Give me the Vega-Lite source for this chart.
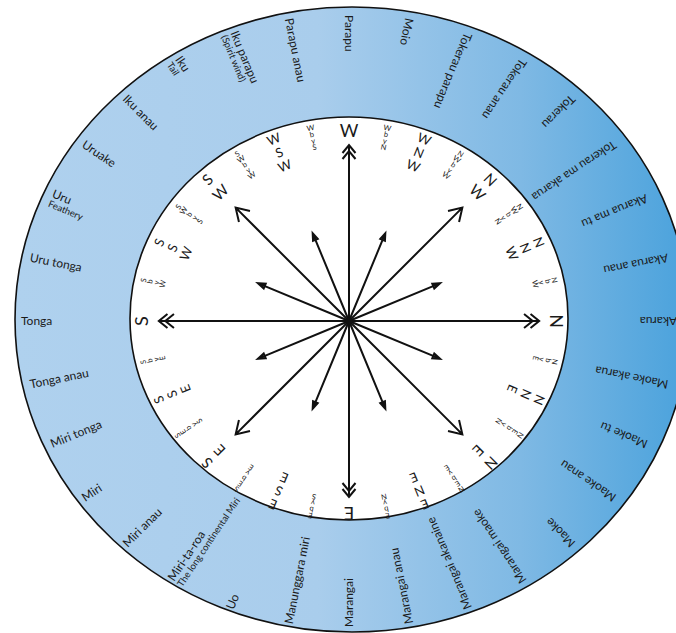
{
  "$schema": "https://vega.github.io/schema/vega-lite/v6.json",
  "width": 654,
  "height": 624,
  "autosize": {"type": "none"},
  "padding": {"left": 22, "top": 9, "right": 0, "bottom": 0},
  "background": "white",
  "view": {"stroke": null},
  "config": {"text": {"font": "Lato", "fill": "#1a1a1a"}},
  "datasets": {
    "rings": [{"ring": "outer"}, {"ring": "inner"}, {"ring": "hub"}],
    "points": [
      {"bearing": 0, "abbr": ["W"], "name": "Parapu", "rank": "cardinal"},
      {"bearing": 11.25, "abbr": ["W", "b", "y", "N"], "name": "Moio", "rank": "quarter"},
      {"bearing": 22.5, "abbr": ["W", "N", "W"], "name": "Tokerau parapu", "rank": "half"},
      {"bearing": 33.75, "abbr": ["N", "W", "b", "y", "W"], "name": "Tokerau anau", "rank": "quarter"},
      {"bearing": 45, "abbr": ["N", "W"], "name": "Tokerau", "rank": "intercardinal"},
      {"bearing": 56.25, "abbr": ["N", "W", "b", "y", "N"], "name": "Tokerau ma akarua", "rank": "quarter"},
      {"bearing": 67.5, "abbr": ["N", "N", "W"], "name": "Akarua ma tu", "rank": "half"},
      {"bearing": 78.75, "abbr": ["N", "b", "y", "W"], "name": "Akarua anau", "rank": "quarter"},
      {"bearing": 90, "abbr": ["N"], "name": "Akarua", "rank": "cardinal"},
      {"bearing": 101.25, "abbr": ["N", "b", "y", "E"], "name": "Maoke akarua", "rank": "quarter"},
      {"bearing": 112.5, "abbr": ["N", "N", "E"], "name": "Maoke tu", "rank": "half"},
      {"bearing": 123.75, "abbr": ["N", "E", "b", "y", "N"], "name": "Maoke anau", "rank": "quarter"},
      {"bearing": 135, "abbr": ["N", "E"], "name": "Maoke", "rank": "intercardinal"},
      {"bearing": 146.25, "abbr": ["N", "E", "b", "y", "E"], "name": "Marangai maoke", "rank": "quarter"},
      {"bearing": 157.5, "abbr": ["E", "N", "E"], "name": "Marangai akanaine", "rank": "half"},
      {"bearing": 168.75, "abbr": ["E", "b", "y", "N"], "name": "Marangai anau", "rank": "quarter"},
      {"bearing": 180, "abbr": ["E"], "name": "Marangai", "rank": "cardinal"},
      {"bearing": 191.25, "abbr": ["E", "b", "y", "S"], "name": "Manunggara miri", "rank": "quarter"},
      {"bearing": 202.5, "abbr": ["E", "S", "E"], "name": "Uo", "rank": "half"},
      {"bearing": 213.75, "abbr": ["S", "E", "b", "y", "E"], "name": "Miri-ta-roa", "sub": "The long continental Miri", "rank": "quarter"},
      {"bearing": 225, "abbr": ["S", "E"], "name": "Miri anau", "rank": "intercardinal"},
      {"bearing": 236.25, "abbr": ["S", "E", "b", "y", "S"], "name": "Miri", "rank": "quarter"},
      {"bearing": 247.5, "abbr": ["S", "S", "E"], "name": "Miri tonga", "rank": "half"},
      {"bearing": 258.75, "abbr": ["S", "b", "y", "E"], "name": "Tonga anau", "rank": "quarter"},
      {"bearing": 270, "abbr": ["S"], "name": "Tonga", "rank": "cardinal"},
      {"bearing": 281.25, "abbr": ["S", "b", "y", "W"], "name": "Uru tonga", "rank": "quarter"},
      {"bearing": 292.5, "abbr": ["S", "S", "W"], "name": "Uru", "sub": "Feathery", "rank": "half"},
      {"bearing": 303.75, "abbr": ["S", "W", "b", "y", "S"], "name": "Uruake", "rank": "quarter"},
      {"bearing": 315, "abbr": ["S", "W"], "name": "Iku anau", "rank": "intercardinal"},
      {"bearing": 326.25, "abbr": ["S", "W", "b", "y", "W"], "name": "Iku", "sub": "Tail", "rank": "quarter"},
      {"bearing": 337.5, "abbr": ["W", "S", "W"], "name": "Iku parapu", "sub": "(Spirit wind)", "rank": "half"},
      {"bearing": 348.75, "abbr": ["W", "b", "y", "S"], "name": "Parapu anau", "rank": "quarter"}
    ]
  },
  "layer": [
    {
      "data": {"name": "rings"},
      "transform": [{"filter": "datum.ring === 'outer'"}],
      "mark": {
        "type": "point",
        "shape": "M-334,-1.5 A337,312.5 0 1 0 340,-1.5 A337,312.5 0 1 0 -334,-1.5 Z",
        "size": 4,
        "filled": true,
        "opacity": 1,
        "fill": {"gradient": "linear", "x1": 0, "y1": 0, "x2": 1, "y2": 0,
          "stops": [
            {"offset": 0, "color": "#afd1ee"},
            {"offset": 0.45, "color": "#a9cdec"},
            {"offset": 0.75, "color": "#7fb9e4"},
            {"offset": 1, "color": "#4aa2dc"}
          ]},
        "stroke": "#111111",
        "strokeWidth": 1.6
      },
      "encoding": {}
    },
    {
      "data": {"name": "rings"},
      "transform": [{"filter": "datum.ring === 'inner'"}],
      "mark": {
        "type": "point",
        "shape": "M-219,-2.5 A219,201.5 0 1 0 219,-2.5 A219,201.5 0 1 0 -219,-2.5 Z",
        "size": 4,
        "filled": true,
        "opacity": 1,
        "fill": "white",
        "stroke": "#111111",
        "strokeWidth": 1.6
      },
      "encoding": {}
    },
    {
      "data": {"name": "points"},
      "transform": [{"filter": "datum.rank === 'cardinal'"}],
      "mark": {"type": "point", "shape": "M0,0 L0,-176 M-6.5,-168 L0,-176 L6.5,-168 M-6.5,-162 L0,-170 L6.5,-162", "filled": false, "opacity": 1, "stroke": "#111111", "strokeWidth": 2},
      "encoding": {
        "angle": {"field": "bearing", "type": "quantitative", "scale": null},
        "size": {"field": "bearing", "type": "quantitative", "legend": null,
          "scale": {"type": "linear", "domain": [0, 90, 180, 270, 360], "range": [4, 4.67, 4, 4.67, 4], "zero": false, "nice": false}}
      }
    },
    {
      "data": {"name": "points"},
      "transform": [{"filter": "datum.rank === 'intercardinal'"}],
      "mark": {"type": "point", "shape": "M0,0 L0,-154 M-7.5,-142 L0,-154 L7.5,-142", "filled": false, "opacity": 1, "stroke": "#111111", "strokeWidth": 2},
      "encoding": {
        "angle": {"field": "bearing", "type": "quantitative", "scale": null},
        "size": {"field": "bearing", "type": "quantitative", "legend": null,
          "scale": {"type": "linear", "domain": [0, 90, 180, 270, 360], "range": [4, 4.67, 4, 4.67, 4], "zero": false, "nice": false}}
      }
    },
    {
      "data": {"name": "points"},
      "transform": [{"filter": "datum.rank === 'half'"}],
      "mark": {"type": "point", "shape": "M0,0 L0,-92 M-2.5,-86 L0,-93 L2.5,-86 Z", "filled": false, "opacity": 1, "stroke": "#111111", "strokeWidth": 2},
      "encoding": {
        "angle": {"field": "bearing", "type": "quantitative", "scale": null},
        "size": {"field": "bearing", "type": "quantitative", "legend": null,
          "scale": {"type": "linear", "domain": [0, 90, 180, 270, 360], "range": [4, 4.67, 4, 4.67, 4], "zero": false, "nice": false}}
      }
    },
    {
      "data": {"name": "rings"},
      "transform": [{"filter": "datum.ring === 'hub'"}],
      "mark": {"type": "point", "shape": "circle", "size": 45, "filled": true, "opacity": 1, "color": "#111111"},
      "encoding": {}
    },
    {
      "data": {"name": "points"},
      "transform": [{"filter": "!isValid(datum.sub)"}],
      "mark": {"type": "text", "align": "left", "baseline": "middle", "font": "Lato", "fontSize": 12},
      "encoding": {
        "text": {"field": "name", "type": "nominal"},
        "theta": {"field": "bearing", "type": "quantitative", "scale": {"type": "linear", "domain": [0, 360], "range": [0, 6.283185307179586], "zero": false, "nice": false}},
        "radius": {"field": "bearing", "type": "quantitative", "scale": {"type": "linear", "domain": [0, 90, 180, 270, 360], "range": [306, 328, 306, 328, 306], "zero": false, "nice": false}},
        "angle": {"field": "bearing", "type": "quantitative", "scale": {"type": "linear", "domain": [0, 360], "range": [90, 450], "zero": false, "nice": false}}
      }
    },
    {
      "data": {"name": "points"},
      "transform": [{"filter": "isValid(datum.sub)"}],
      "mark": {"type": "text", "align": "left", "baseline": "middle", "dy": -4.5, "font": "Lato", "fontSize": 12},
      "encoding": {
        "text": {"field": "name", "type": "nominal"},
        "theta": {"field": "bearing", "type": "quantitative", "scale": {"type": "linear", "domain": [0, 360], "range": [0, 6.283185307179586], "zero": false, "nice": false}},
        "radius": {"field": "bearing", "type": "quantitative", "scale": {"type": "linear", "domain": [0, 90, 180, 270, 360], "range": [306, 328, 306, 328, 306], "zero": false, "nice": false}},
        "angle": {"field": "bearing", "type": "quantitative", "scale": {"type": "linear", "domain": [0, 360], "range": [90, 450], "zero": false, "nice": false}}
      }
    },
    {
      "data": {"name": "points"},
      "transform": [{"filter": "isValid(datum.sub)"}],
      "mark": {"type": "text", "align": "left", "baseline": "middle", "dy": 6.5, "font": "Lato", "fontSize": 9.5},
      "encoding": {
        "text": {"field": "sub", "type": "nominal"},
        "theta": {"field": "bearing", "type": "quantitative", "scale": {"type": "linear", "domain": [0, 360], "range": [0, 6.283185307179586], "zero": false, "nice": false}},
        "radius": {"field": "bearing", "type": "quantitative", "scale": {"type": "linear", "domain": [0, 90, 180, 270, 360], "range": [306, 328, 306, 328, 306], "zero": false, "nice": false}},
        "angle": {"field": "bearing", "type": "quantitative", "scale": {"type": "linear", "domain": [0, 360], "range": [90, 450], "zero": false, "nice": false}}
      }
    },
    {
      "data": {"name": "points"},
      "transform": [{"filter": "datum.rank === 'cardinal'"}],
      "mark": {"type": "text", "align": "center", "baseline": "top", "font": "Lato", "fontSize": 18},
      "encoding": {
        "text": {"field": "abbr", "type": "nominal"},
        "theta": {"field": "bearing", "type": "quantitative", "scale": {"type": "linear", "domain": [0, 360], "range": [0, 6.283185307179586], "zero": false, "nice": false}},
        "radius": {"field": "bearing", "type": "quantitative", "scale": {"type": "linear", "domain": [0, 90, 180, 270, 360], "range": [198, 215, 200, 215, 198], "zero": false, "nice": false}},
        "angle": {"field": "bearing", "type": "quantitative", "scale": null}
      }
    },
    {
      "data": {"name": "points"},
      "transform": [{"filter": "datum.rank === 'intercardinal'"}],
      "mark": {"type": "text", "align": "center", "baseline": "top", "lineHeight": 18, "font": "Lato", "fontSize": 15},
      "encoding": {
        "text": {"field": "abbr", "type": "nominal"},
        "theta": {"field": "bearing", "type": "quantitative", "scale": {"type": "linear", "domain": [0, 360], "range": [0, 6.283185307179586], "zero": false, "nice": false}},
        "radius": {"field": "bearing", "type": "quantitative", "scale": {"type": "linear", "domain": [0, 90, 180, 270, 360], "range": [198, 215, 200, 215, 198], "zero": false, "nice": false}},
        "angle": {"field": "bearing", "type": "quantitative", "scale": null}
      }
    },
    {
      "data": {"name": "points"},
      "transform": [{"filter": "datum.rank === 'half'"}],
      "mark": {"type": "text", "align": "center", "baseline": "top", "lineHeight": 14.5, "font": "Lato", "fontSize": 13},
      "encoding": {
        "text": {"field": "abbr", "type": "nominal"},
        "theta": {"field": "bearing", "type": "quantitative", "scale": {"type": "linear", "domain": [0, 360], "range": [0, 6.283185307179586], "zero": false, "nice": false}},
        "radius": {"field": "bearing", "type": "quantitative", "scale": {"type": "linear", "domain": [0, 90, 180, 270, 360], "range": [198, 215, 200, 215, 198], "zero": false, "nice": false}},
        "angle": {"field": "bearing", "type": "quantitative", "scale": null}
      }
    },
    {
      "data": {"name": "points"},
      "transform": [{"filter": "datum.rank === 'quarter'"}],
      "mark": {"type": "text", "align": "center", "baseline": "top", "lineHeight": 6.5, "font": "Lato", "fontSize": 7.5},
      "encoding": {
        "text": {"field": "abbr", "type": "nominal"},
        "theta": {"field": "bearing", "type": "quantitative", "scale": {"type": "linear", "domain": [0, 360], "range": [0, 6.283185307179586], "zero": false, "nice": false}},
        "radius": {"field": "bearing", "type": "quantitative", "scale": {"type": "linear", "domain": [0, 90, 180, 270, 360], "range": [198, 215, 200, 215, 198], "zero": false, "nice": false}},
        "angle": {"field": "bearing", "type": "quantitative", "scale": null}
      }
    }
  ],
  "resolve": {"scale": {"theta": "independent", "radius": "independent", "angle": "independent", "size": "independent"}}
}
